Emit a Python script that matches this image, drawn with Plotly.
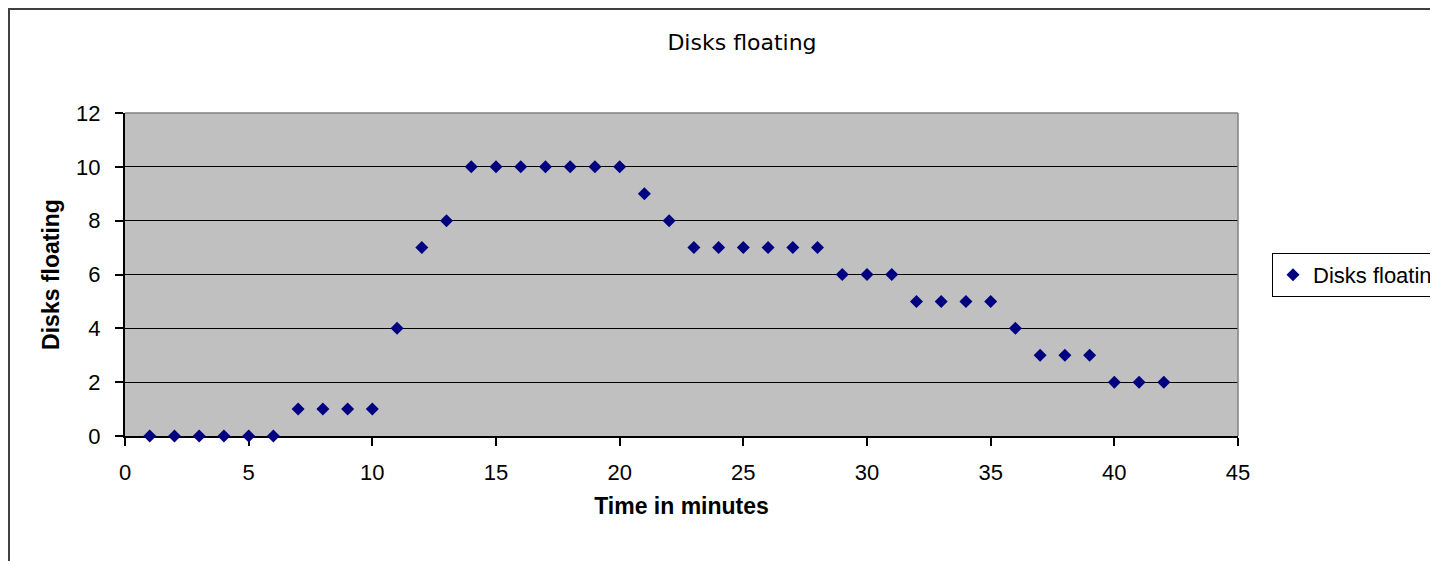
import plotly.graph_objects as go

# Data
minutes = [1, 2, 3, 4, 5, 6, 7, 8, 9, 10,
           11, 12, 13, 14, 15, 16, 17, 18, 19, 20,
           21, 22, 23, 24, 25, 26, 27, 28, 29, 30,
           31, 32, 33, 34, 35, 36, 37, 38, 39, 40,
           41, 42]
disks_floating = [0, 0, 0, 0, 0, 0, 1, 1, 1, 1,
                  4, 7, 8, 10, 10, 10, 10, 10, 10, 10,
                  9, 8, 7, 7, 7, 7, 7, 7, 6, 6,
                  6, 5, 5, 5, 5, 4, 3, 3, 3, 2,
                  2, 2]
x_ticks = [0, 5, 10, 15, 20, 25, 30, 35, 40, 45]
y_ticks = [0, 2, 4, 6, 8, 10, 12]

OFF = 8  # page body margin
W, H = 1438 - OFF, 561 - OFF
L, R, T, B = 125 - OFF, 1238 - OFF, 113 - OFF, 436 - OFF
pw, ph = R - L, B - T

def px(x):
    return (x - OFF - L) / pw

def py(y):
    return (B - (y - OFF)) / ph

fig = go.Figure()
fig.add_trace(go.Scatter(
    x=minutes, y=disks_floating, mode="markers", name="Disks floating",
    marker=dict(symbol="diamond", size=10, color="#000080"),
    cliponaxis=False,
))

tickfont = dict(family="Liberation Sans, Arial, sans-serif", size=22, color="#000000")
titlefont = dict(family="Liberation Sans, Arial, sans-serif", size=23, color="#000000", weight="bold")

fig.update_layout(
    width=W, height=H,
    margin=dict(l=L, r=W - R, t=T, b=H - B, autoexpand=False),
    paper_bgcolor="#FFFFFF",
    plot_bgcolor="#C0C0C0",
    title=dict(text="Disks floating", x=px(742), xref="paper", xanchor="center",
               y=1 - (42 - OFF) / H, yref="container", yanchor="middle",
               font=dict(family="DejaVu Sans, sans-serif", size=22, color="#000000")),
    showlegend=True,
    legend=dict(x=px(1272), xanchor="left", y=py(275), yanchor="middle",
                bordercolor="#000000", borderwidth=1, bgcolor="#FFFFFF",
                font=dict(family="Liberation Sans, Arial, sans-serif", size=22, color="#000000")),
    xaxis=dict(range=[0, 45], tickvals=x_ticks, ticktext=[str(v) for v in x_ticks],
               showgrid=False, zeroline=False, showline=True, linecolor="#000000", linewidth=2,
               ticks="outside", ticklen=8, tickwidth=1.5, tickcolor="#000000",
               tickfont=tickfont, ticklabelstandoff=8, layer="below traces",
               title=dict(text="Time in minutes", font=titlefont, standoff=13),
               automargin=False, fixedrange=True),
    yaxis=dict(range=[0, 12], tickvals=y_ticks, ticktext=[str(v) for v in y_ticks],
               showgrid=True, gridcolor="#000000", gridwidth=1.2,
               zeroline=False, showline=True, linecolor="#000000", linewidth=2,
               ticks="outside", ticklen=8, tickwidth=1.5, tickcolor="#000000",
               tickfont=tickfont, ticklabelstandoff=10, layer="below traces",
               title=dict(text="Disks floating", font=titlefont, standoff=10),
               automargin=False, fixedrange=True),
    shapes=[
        # plot area top and right border (gray)
        dict(type="line", xref="paper", yref="paper", x0=0, x1=1, y0=1, y1=1,
             line=dict(color="#808080", width=1.5), layer="above"),
        dict(type="line", xref="paper", yref="paper", x0=1, x1=1, y0=0, y1=1,
             line=dict(color="#808080", width=1.5), layer="above"),
        # outer chart border
        dict(type="rect", xref="paper", yref="paper",
             x0=px(OFF + 1), x1=px(1460), y0=py(OFF + 1), y1=py(590),
             line=dict(color="#404040", width=2), fillcolor="rgba(0,0,0,0)", layer="above"),
    ],
)

fig.write_html("out.html")
